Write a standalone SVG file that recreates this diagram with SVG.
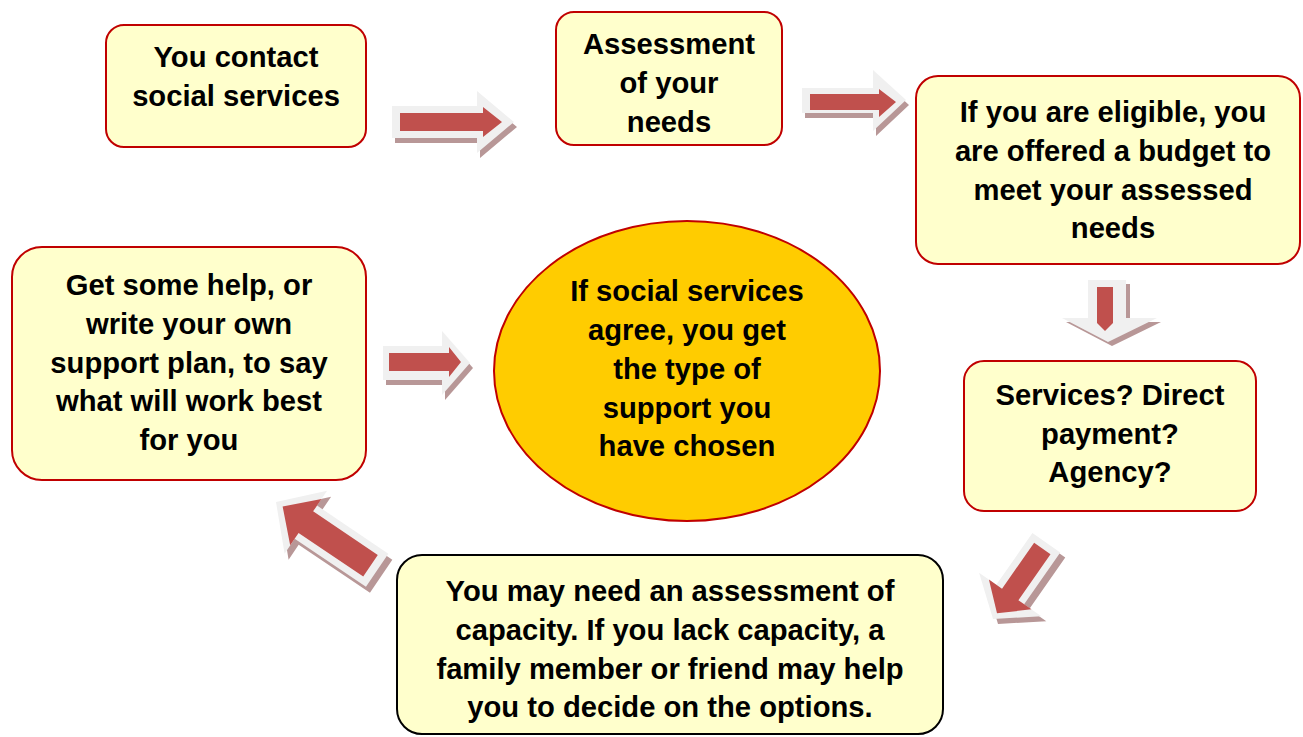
<svg xmlns="http://www.w3.org/2000/svg" xmlns:xlink="http://www.w3.org/1999/xlink" width="1303" height="737" viewBox="0 0 1303 737">
  <style>
    .box { fill: #ffffcc; stroke: #c00000; stroke-width: 2; }
    .box-dark { fill: #ffffcc; stroke: #000000; stroke-width: 2; }
    .oval { fill: #ffcc00; stroke: #c00000; stroke-width: 2; }
    .lbl { font-family: "Liberation Sans", Arial, sans-serif; font-weight: bold; font-size: 29.2px; fill: #000000; text-anchor: middle; }
    .arr-shadow { fill: #b89797; }
    .arr-rim { fill: #f0f0f0; }
    .arr-core { fill: #c0504d; }
  </style>

  <!-- block arrows between the steps -->
  <g id="connectors">
    <!-- contact -> assessment -->
    <g id="arrow-1">
      <path class="arr-shadow" transform="translate(3,5)" d="M392,106 L477,106 L477,91 L514,122 L477,153 L477,138 L392,138 Z"/>
      <path class="arr-rim" d="M392,106 L477,106 L477,91 L514,122 L477,153 L477,138 L392,138 Z"/>
      <path class="arr-core" d="M400,113 L483,113 L483,107 L502,122 L483,137 L483,131 L400,131 Z"/>
    </g>
    <!-- assessment -> budget -->
    <g id="arrow-2">
      <path class="arr-shadow" transform="translate(3,5)" d="M802,88 L873,88 L873,70 L906,100 L873,131 L873,113 L802,113 Z"/>
      <path class="arr-rim" d="M802,88 L873,88 L873,70 L906,100 L873,131 L873,113 L802,113 Z"/>
      <path class="arr-core" d="M810,94 L879,94 L879,89 L896,102 L879,117 L879,110 L810,110 Z"/>
    </g>
    <!-- budget -> options -->
    <g id="arrow-3">
      <path class="arr-shadow" transform="translate(4,4)" d="M1088,280 L1126,280 L1126,318 L1157,318 L1108,342 L1062,318 L1088,318 Z"/>
      <path class="arr-rim" d="M1088,280 L1126,280 L1126,318 L1157,318 L1108,342 L1062,318 L1088,318 Z"/>
      <path class="arr-core" d="M1097,287 L1113,287 L1113,323 L1105,331 L1097,323 Z"/>
    </g>
    <!-- options -> capacity -->
    <g id="arrow-4">
      <path class="arr-shadow" transform="translate(998,624) rotate(125)" d="M-93,-17 L-30,-17 L-30,-38 L0,0 L-30,38 L-30,17 L-93,17 Z"/>
      <path class="arr-rim" transform="translate(993,619) rotate(125)" d="M-93,-17 L-30,-17 L-30,-38 L0,0 L-30,38 L-30,17 L-93,17 Z"/>
      <path class="arr-core" transform="translate(993,619) rotate(125)" d="M-86,-10 L-30,-10 L-30,-26 L-7,0 L-30,26 L-30,10 L-86,10 Z"/>
    </g>
    <!-- capacity -> support plan -->
    <g id="arrow-5">
      <path class="arr-shadow" transform="translate(280,508) rotate(214)" d="M-122,-20 L-36,-20 L-36,-38 L0,0 L-36,38 L-36,20 L-122,20 Z"/>
      <path class="arr-rim" transform="translate(276,502) rotate(214)" d="M-122,-20 L-36,-20 L-36,-38 L0,0 L-36,38 L-36,20 L-122,20 Z"/>
      <path class="arr-core" transform="translate(276,502) rotate(214)" d="M-114,-13 L-36,-13 L-36,-28 L-8,0 L-36,28 L-36,13 L-114,13 Z"/>
    </g>
    <!-- support plan -> agreement -->
    <g id="arrow-6">
      <path class="arr-shadow" transform="translate(3,5)" d="M383,346 L442,346 L442,331 L470,363 L442,395 L442,380 L383,380 Z"/>
      <path class="arr-rim" d="M383,346 L442,346 L442,331 L470,363 L442,395 L442,380 L383,380 Z"/>
      <path class="arr-core" d="M389,353 L449,353 L449,347 L461,362 L449,377 L449,371 L389,371 Z"/>
    </g>
  </g>

  <g id="node-contact">
    <rect class="box" x="106" y="25" width="260" height="122" rx="18"/>
    <text class="lbl" x="236" y="67">You contact</text>
    <text class="lbl" x="236" y="106">social services</text>
  </g>

  <g id="node-assessment">
    <rect class="box" x="556" y="12" width="226" height="133" rx="18"/>
    <text class="lbl" x="669" y="54">Assessment</text>
    <text class="lbl" x="669" y="93">of your</text>
    <text class="lbl" x="669" y="132">needs</text>
  </g>

  <g id="node-budget">
    <rect class="box" x="916" y="76" width="384" height="188" rx="22"/>
    <text class="lbl" x="1113" y="122">If you are eligible, you</text>
    <text class="lbl" x="1113" y="161">are offered a budget to</text>
    <text class="lbl" x="1113" y="200">meet your assessed</text>
    <text class="lbl" x="1113" y="238">needs</text>
  </g>

  <g id="node-options">
    <rect class="box" x="964" y="361" width="292" height="150" rx="20"/>
    <text class="lbl" x="1110" y="405">Services? Direct</text>
    <text class="lbl" x="1110" y="444">payment?</text>
    <text class="lbl" x="1110" y="482">Agency?</text>
  </g>

  <g id="node-capacity">
    <rect class="box-dark" x="397" y="555" width="546" height="179" rx="25"/>
    <text class="lbl" x="670" y="601">You may need an assessment of</text>
    <text class="lbl" x="670" y="640">capacity. If you lack capacity, a</text>
    <text class="lbl" x="670" y="679">family member or friend may help</text>
    <text class="lbl" x="670" y="717">you to decide on the options.</text>
  </g>

  <g id="node-plan">
    <rect class="box" x="12" y="247" width="354" height="233" rx="30"/>
    <text class="lbl" x="189" y="295">Get some help, or</text>
    <text class="lbl" x="189" y="334">write your own</text>
    <text class="lbl" x="189" y="373">support plan, to say</text>
    <text class="lbl" x="189" y="411">what will work best</text>
    <text class="lbl" x="189" y="450">for you</text>
  </g>

  <g id="node-agreement">
    <ellipse class="oval" cx="687" cy="371" rx="193" ry="150"/>
    <text class="lbl" x="687" y="301">If social services</text>
    <text class="lbl" x="687" y="340">agree, you get</text>
    <text class="lbl" x="687" y="379">the type of</text>
    <text class="lbl" x="687" y="418">support you</text>
    <text class="lbl" x="687" y="456">have chosen</text>
  </g>
</svg>
